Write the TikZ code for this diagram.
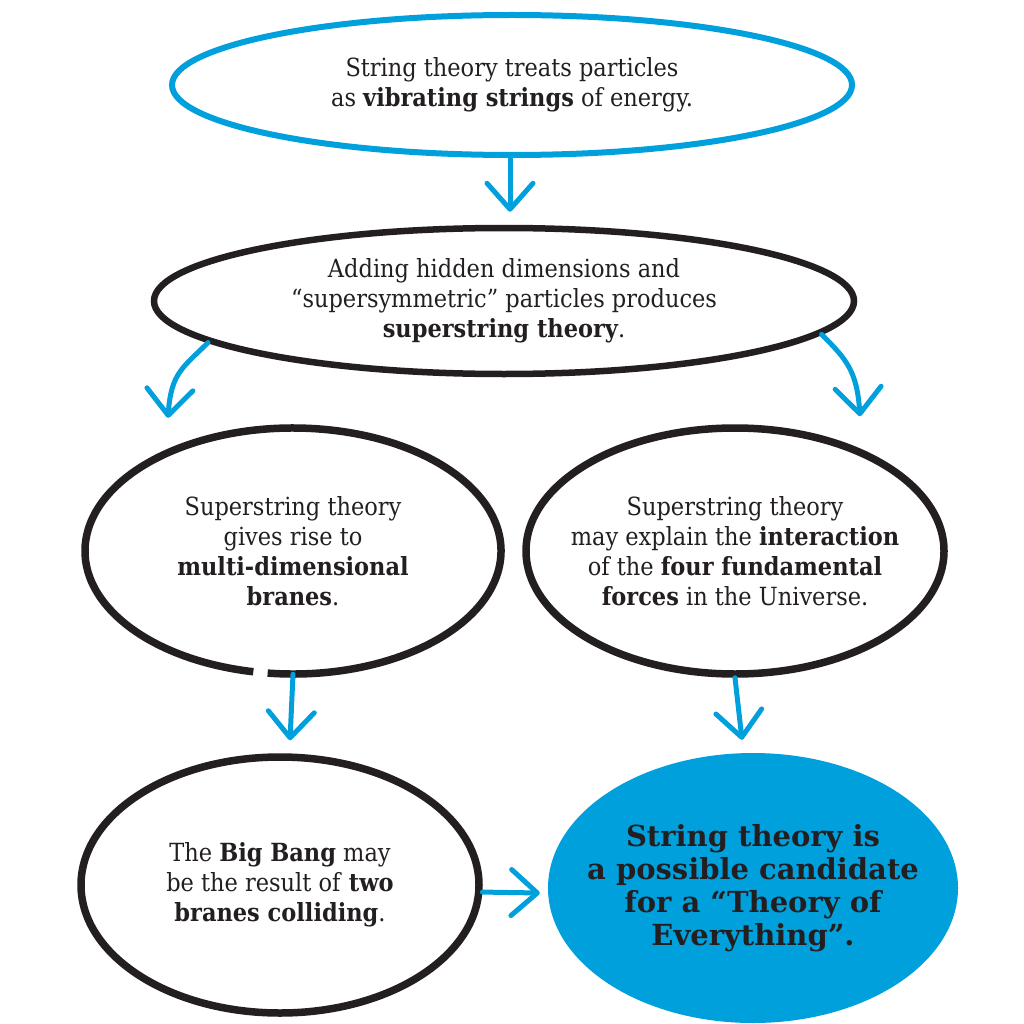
\documentclass[tikz,border=0pt]{standalone}
\usepackage{fontspec}
\setmainfont{DejaVu Serif Condensed}
\newfontfamily\heavy{DejaVu Serif}
\usetikzlibrary{shapes.geometric,arrows.meta}
\definecolor{sblue}{HTML}{00A0DC}
\definecolor{ink}{HTML}{231F20}
\begin{document}
\begin{tikzpicture}[x=1pt,y=1pt,
  bub/.style={ellipse, inner xsep=-60pt, inner ysep=-10pt, align=center, text=ink, font=\fontsize{25}{30}\selectfont},
  bline/.style={draw=ink, line width=7.5pt},
  arr/.style={draw=sblue, line width=5pt, line cap=round, -{Straight Barb[length=26pt,width=46pt,round]}},
]
\fill[white] (0,0) rectangle (1024,-1024);
\useasboundingbox (0,0) rectangle (1024,-1024);

\node[bub, draw=sblue, line width=6pt, minimum width=680pt, minimum height=140pt] (n1) at (512,-85)
  {String theory treats particles\\as \textbf{vibrating strings} of energy.};
\node[bub, bline, line width=6.5pt, minimum width=700pt, minimum height=146pt] (n2) at (504,-301)
  {Adding hidden dimensions and\\“supersymmetric” particles produces\\\textbf{superstring theory}.};
\node[bub, minimum width=416pt, minimum height=246pt] (n3) at (293,-551)
  {Superstring theory\\gives rise to\\\textbf{multi-dimensional}\\\textbf{branes}.};
\draw[bline] (n3.center) ++(263:208pt and 123pt) arc[start angle=263, end angle=619, x radius=208pt, y radius=123pt];
\node[bub, bline, minimum width=418pt, minimum height=246pt] (n5) at (735,-551)
  {Superstring theory\\may explain the \textbf{interaction}\\of the \textbf{four fundamental}\\\textbf{forces} in the Universe.};
\node[bub, bline, minimum width=398pt, minimum height=256pt] (n4) at (280,-885)
  {The \textbf{Big Bang} may\\be the result of \textbf{two}\\\textbf{branes colliding}.};
\node[bub, fill=sblue, minimum width=410pt, minimum height=270pt, font=\heavy\bfseries\fontsize{29}{33}\selectfont] (n6) at (753,-888)
  {String theory is\\a possible candidate\\for a “Theory of\\Everything”.};

\draw[arr] ([xshift=-2pt]n1.south) -- ([xshift=6pt,yshift=13pt]n2.north);
\draw[arr] (n2.188) .. controls +(-25,-25) and +(3,45) .. ([xshift=-125pt,yshift=10pt]n3.north);
\draw[arr] (n2.354) .. controls +(25,-25) and +(-3,45) .. ([xshift=125pt,yshift=8pt]n5.north);
\draw[arr] (n3.south) -- ([xshift=10pt,yshift=13pt]n4.north);
\draw[arr] (n5.south) -- ([xshift=-11pt,yshift=13pt]n6.north);
\draw[arr] (n4.-2) -- ([xshift=-8pt,yshift=-5pt]n6.west);
\end{tikzpicture}
\end{document}
